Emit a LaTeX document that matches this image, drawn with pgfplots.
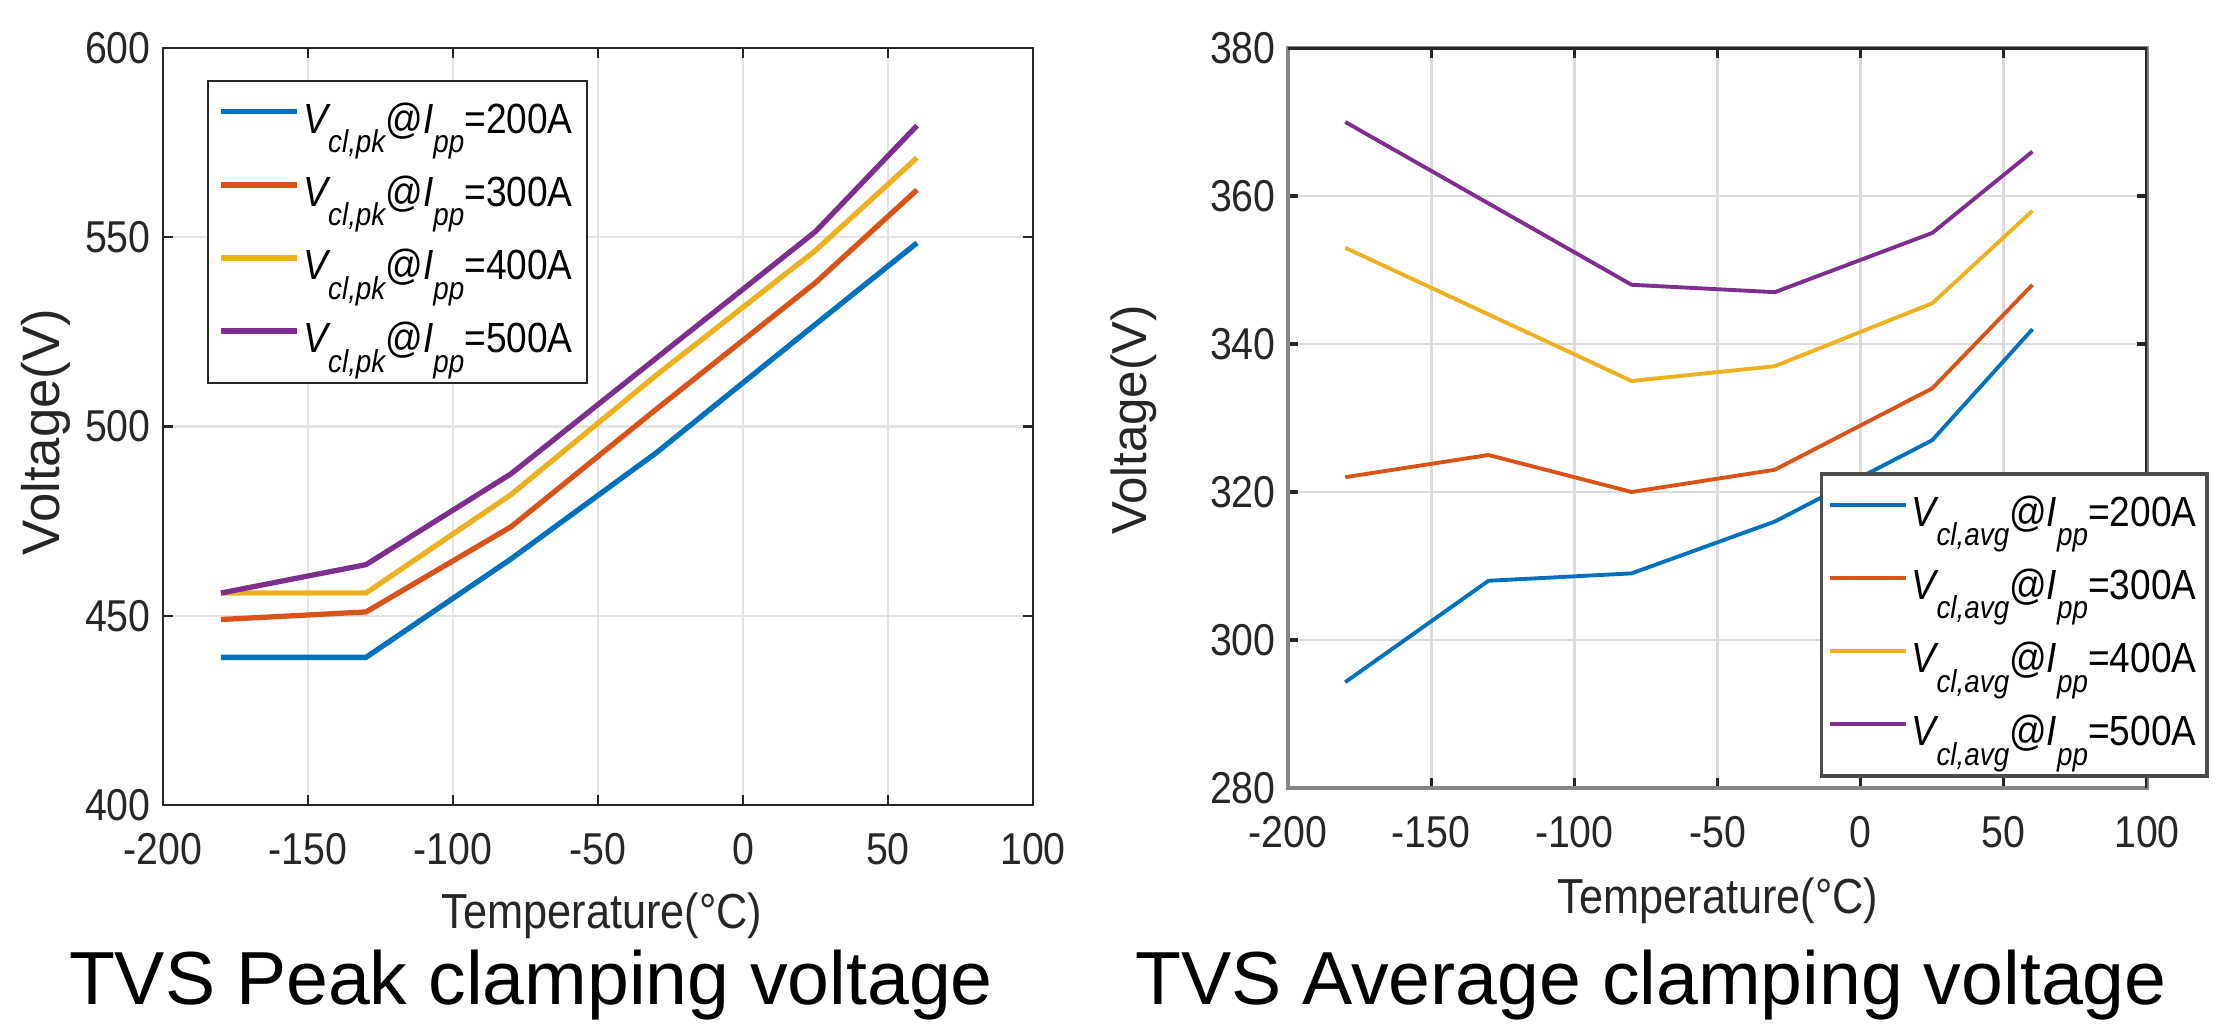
\documentclass[border=0pt]{standalone}
\usepackage{fontspec}
\setmainfont{Liberation Sans}
\newfontfamily\cond[FakeStretch=0.88]{Liberation Sans}
\usepackage{pgfplots}
\pgfplotsset{compat=1.18}

\definecolor{c1}{rgb}{0,0.447,0.741}
\definecolor{c2}{rgb}{0.85,0.325,0.098}
\definecolor{c3}{rgb}{0.929,0.694,0.125}
\definecolor{c4}{rgb}{0.494,0.184,0.556}
\definecolor{axdark}{gray}{0.15}

\newcommand{\sub}[1]{\raisebox{-5.5pt}{\fontsize{9}{9}\selectfont\itshape #1}}
\newcommand{\lab}[2]{{\itshape V}\sub{#1}@{\itshape I}\sub{pp}=#2A}

\pgfplotsset{
  mstyle/.style={
    scale only axis, anchor=south west,
    xmin=-200, xmax=100, xtick={-200,-150,...,100},
    tick align=inside, tick pos=both, major tick length=0.1cm,
    grid=major,
    /pgf/number format/assume math mode=true,
    tick label style={font=\cond\fontsize{12.7}{13}\selectfont, text=axdark},
    xticklabel style={yshift=-0.16cm},
    legend cell align=left,
    legend image code/.code={\draw[##1] (0cm,3pt) -- (0.76cm,3pt);},
    legend style={font=\cond\fontsize{12}{12}\selectfont,
      nodes={inner sep=1pt, text height=9pt, text depth=2.6pt},
      row sep=7.2pt, inner xsep=3pt, inner ysep=5pt},
  }
}

\begin{document}
\begin{tikzpicture}
\path (0,0) rectangle (22.39,10.25);

% left: peak clamping voltage
\begin{axis}[mstyle,
  at={(1.63cm,2.20cm)}, width=8.70cm, height=7.57cm,
  ymin=400, ymax=600, ytick={400,450,...,600},
  axis line style={axdark, line width=0.7pt},
  tick style={axdark, line width=0.7pt},
  major grid style={gray!22, line width=0.6pt},
  legend style={at={(0.0506,0.958)}, anchor=north west, draw=axdark, line width=0.6pt},
  every axis plot/.append style={line width=1.5pt},
]
\addplot[c1] coordinates {(-180,439) (-130,439) (-80,465) (-30,493) (25,527) (60,548.5)};
\addlegendentry{\lab{cl,pk}{200}}
\addplot[c2] coordinates {(-180,449) (-130,451) (-80,473.5) (-30,504.5) (25,538) (60,562.5)};
\addlegendentry{\lab{cl,pk}{300}}
\addplot[c3] coordinates {(-180,456) (-130,456) (-80,482) (-30,513.5) (25,546.5) (60,571)};
\addlegendentry{\lab{cl,pk}{400}}
\addplot[c4] coordinates {(-180,456) (-130,463.5) (-80,487.5) (-30,518) (25,551.5) (60,579.5)};
\addlegendentry{\lab{cl,pk}{500}}
\end{axis}

% right: average clamping voltage
\begin{axis}[mstyle,
  at={(12.88cm,2.37cm)}, width=8.59cm, height=7.40cm,
  ymin=280, ymax=380, ytick={280,300,...,380},
  axis line style={gray!95, line width=1.4pt},
  tick style={axdark, line width=0.9pt},
  major grid style={gray!28, line width=0.8pt},
  legend style={at={(1.072,0.427)}, anchor=north east, draw=gray!140, line width=1pt,
    inner xsep=2pt},
  every axis plot/.append style={line width=1.1pt},
]
\addplot[c1] coordinates {(-180,294.3) (-130,308) (-80,309) (-30,316) (25,327) (60,342)};
\addlegendentry{\lab{cl,avg}{200}}
\addplot[c2] coordinates {(-180,322) (-130,325) (-80,320) (-30,323) (25,334) (60,348)};
\addlegendentry{\lab{cl,avg}{300}}
\addplot[c3] coordinates {(-180,353) (-130,344) (-80,335) (-30,337) (25,345.5) (60,358)};
\addlegendentry{\lab{cl,avg}{400}}
\addplot[c4] coordinates {(-180,370) (-130,359) (-80,348) (-30,347) (25,355) (60,366)};
\addlegendentry{\lab{cl,avg}{500}}
\draw[axdark, line width=1pt] (rel axis cs:0,1) -- (rel axis cs:1,1) -- (rel axis cs:1,0);
\end{axis}

% axis labels and titles
\node[rotate=90, inner sep=0pt, font=\fontsize{15}{15}\selectfont, text=axdark] at (0.46,5.93) {Voltage(V)};
\node[rotate=90, inner sep=0pt, font=\fontsize{14}{14}\selectfont, text=axdark] at (11.34,6.05) {Voltage(V)};
\node[anchor=base, inner sep=0pt, font=\cond\fontsize{14}{14}\selectfont, text=axdark] at (6.02,0.96) {Temperature(°C)};
\node[anchor=base, inner sep=0pt, font=\cond\fontsize{14}{14}\selectfont, text=axdark] at (17.18,1.11) {Temperature(°C)};
\node[anchor=base, inner sep=0pt, font=\fontsize{21.4}{22}\selectfont] at (5.31,0.20) {TVS Peak clamping voltage};
\node[anchor=base, inner sep=0pt, font=\fontsize{21.4}{22}\selectfont] at (16.51,0.20) {TVS Average clamping voltage};
\end{tikzpicture}
\end{document}
